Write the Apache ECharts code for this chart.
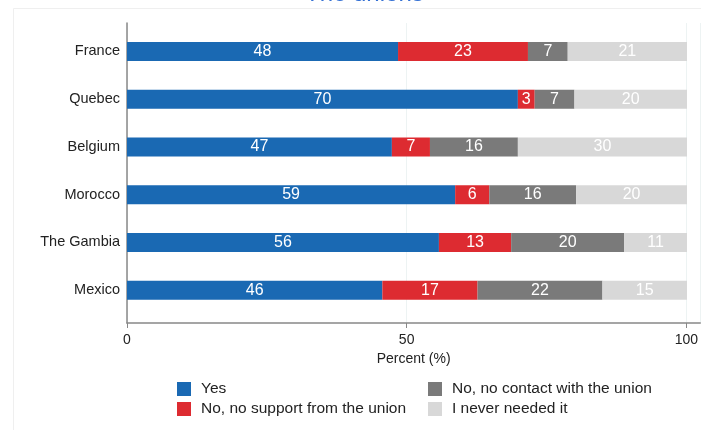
<html>
<head>
<meta charset="utf-8" />
<script src="https://cdn.jsdelivr.net/npm/echarts@6/dist/echarts.min.js"></script>
<style type="text/css">
	html, body, #main {
	width: 100%;
	height: 100%;
	margin: 0;
	background: #fff;
}
</style>
</head>
<body>
	<div id="main"></div>
	<script>
		var categories = ['France', 'Quebec', 'Belgium', 'Morocco', 'The Gambia', 'Mexico'];
		// share of respondents (%)
		var yes = [48.4, 69.8, 47.3, 58.6, 55.7, 45.6];
		var noSupport = [23.2, 3.0, 6.8, 6.1, 12.9, 17.0];
		var noContact = [7.1, 7.1, 15.7, 15.5, 20.2, 22.3];
		var neverNeeded = [21.3, 20.1, 30.2, 19.8, 11.2, 15.1];
		var xTicks = [0, 50, 100];

		var font = 'Liberation Sans, Arial, sans-serif';
		var chart = echarts.init(document.getElementById('main'));

		function makeSeries(name, values, color) {
			return {
				name : name,
				type : 'bar',
				stack : 'total',
				xAxisIndex : 0,
				yAxisIndex : 0,
				barWidth : 19,
				data : values,
				itemStyle : { color : color },
				label : {
					show : true,
					position : 'inside',
					color : '#fff',
					fontSize : 16,
					fontFamily : font,
					formatter : function(p) { return Math.round(p.value); }
				}
			};
		}

		var legendBase = {
			orient : 'vertical',
			top : 376,
			icon : 'rect',
			itemWidth : 14,
			itemHeight : 14,
			itemGap : 4,
			textStyle : { fontSize : 15.5, color : '#222', fontFamily : font, padding : [0, 0, 0, 5], lineHeight : 14 }
		};

		var option = {
			animation : false,
			title : {
				text : 'The unions',
				left : 305,
				top : -18,
				padding : 0,
				textStyle : { color : '#3470d4', fontSize : 24, fontWeight : 'normal', fontFamily : font }
			},
			graphic : [ {
				type : 'rect',
				shape : { x : 13.5, y : 8.5, width : 700, height : 440 },
				style : { fill : 'none', stroke : '#efefef', lineWidth : 1 },
				z : -1
			} ],
			legend : [
				Object.assign({ left : 172, data : ['Yes', 'No, no support from the union'] }, legendBase),
				Object.assign({ left : 423, data : ['No, no contact with the union', 'I never needed it'] }, legendBase)
			],
			grid : [
				{ left : 127, right : 0, top : 27.6, bottom : 116 },
				{ left : 127, right : 0, top : 23, bottom : 107 }
			],
			xAxis : [ {
				gridIndex : 0,
				type : 'value',
				min : 0,
				max : 102.5,
				show : false
			}, {
				gridIndex : 1,
				type : 'value',
				min : 0,
				max : 102.5,
				interval : 50,
				name : 'Percent (%)',
				nameLocation : 'middle',
				nameGap : 26,
				nameTextStyle : { fontSize : 14, color : '#222', fontFamily : font },
				axisLine : { onZero : false, lineStyle : { color : '#888', width : 1.5 } },
				axisTick : { length : 5, lineStyle : { color : '#888' } },
				axisLabel : {
					margin : 10,
					fontSize : 14,
					color : '#222',
					fontFamily : font,
					showMaxLabel : false,
					formatter : function(v) { return xTicks.indexOf(v) >= 0 ? String(v) : ''; }
				},
				splitLine : { show : true, lineStyle : { color : '#edf3f3', width : 1 } }
			} ],
			yAxis : [ {
				gridIndex : 0,
				type : 'category',
				inverse : true,
				data : categories,
				axisLine : { show : false },
				axisTick : { show : false },
				axisLabel : { margin : 7, fontSize : 14.5, color : '#222', fontFamily : font }
			}, {
				gridIndex : 1,
				type : 'value',
				min : 0,
				max : 1,
				axisLine : { show : true, onZero : false, lineStyle : { color : '#888', width : 1.5 } },
				axisTick : { show : false },
				axisLabel : { show : false },
				splitLine : { show : false }
			} ],
			series : [
				makeSeries('Yes', yes, '#1a69b3'),
				makeSeries('No, no support from the union', noSupport, '#dd2b31'),
				makeSeries('No, no contact with the union', noContact, '#7a7a7a'),
				makeSeries('I never needed it', neverNeeded, '#d8d8d8')
			]
		};

		chart.setOption(option);

		window.onresize = function() {
			chart.resize();
		}
	</script>
</body>
</html>
